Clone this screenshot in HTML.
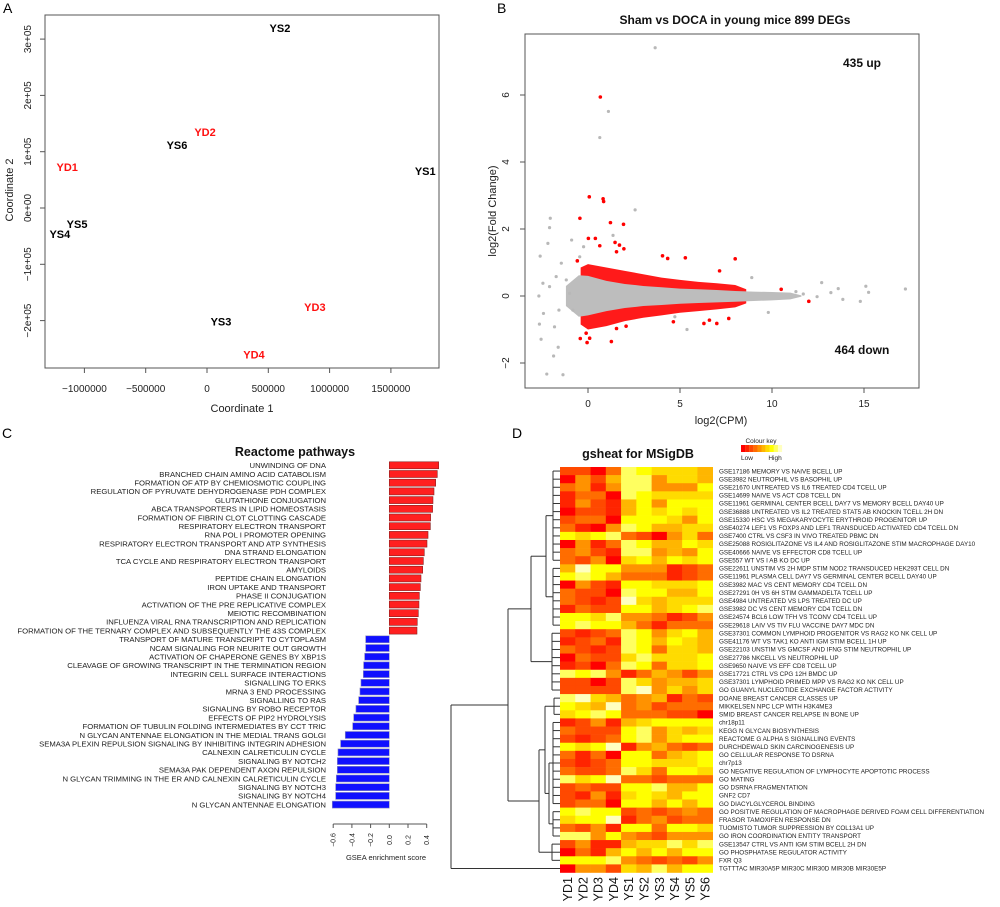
<!DOCTYPE html>
<html><head><meta charset="utf-8"><style>
body{margin:0;background:#fff}
svg{display:block;font-family:"Liberation Sans",sans-serif}
</style></head><body>
<svg id="fig" width="1000" height="907" viewBox="0 0 1000 907" xmlns="http://www.w3.org/2000/svg">
<rect width="1000" height="907" fill="#fff"/>
<text x="3" y="13" font-size="14">A</text>
<text x="497" y="13" font-size="14">B</text>
<text x="2" y="438" font-size="14">C</text>
<text x="512" y="438" font-size="14">D</text>
<g id="pa"></g>
<g id="pb"></g>
<g id="pc"></g>
<g id="pd"></g>
</svg>
<script>
// ---------- Panel A data ----------
const mdsLabels=["YS2","YD2","YS6","YD1","YS1","YS5","YS4","YS3","YD3","YD4"];
const mdsX=[595000,-16000,-245000,-1140000,1780000,-1060000,-1200000,114000,880000,383000];
const mdsY=[320000,135000,112000,73000,66000,-28000,-46000,-202000,-176000,-260000];
const mdsXTicks=[-1000000,-500000,0,500000,1000000,1500000];
const mdsXTickLabels=["\u22121000000","\u2212500000","0","500000","1000000","1500000"];
const mdsYTicks=[-200000,-100000,0,100000,200000,300000];
const mdsYTickLabels=["\u22122e+05","\u22121e+05","0e+00","1e+05","2e+05","3e+05"];

// ---------- Panel B data ----------
const redX=[0.67,0.07,0.82,0.85,-0.44,1.22,1.93,0.02,0.4,1.47,1.71,1.95,1.55,0.64,4.05,4.33,5.29,8.0,-0.58,7.15,10.5,12.0,-0.42,-0.05,0.09,1.27,1.55,2.07,6.3,6.6,7.0,7.65,4.64,-0.1];
const redY=[5.94,2.96,2.9,2.82,2.32,2.19,2.14,1.72,1.72,1.6,1.52,1.41,1.32,1.5,1.2,1.12,1.14,1.11,1.05,0.75,0.2,-0.16,-1.27,-1.39,-1.26,-1.36,-0.97,-0.9,-0.82,-0.72,-0.82,-0.67,-0.77,-1.11];
const grayX=[3.65,1.11,0.64,2.56,-2.05,-2.09,-2.18,-2.6,-0.89,1.36,-2.67,-2.64,-2.55,-1.87,-1.62,-2.24,-1.36,-1.82,-1.58,-2.09,-1.73,-1.45,-1.18,12.7,13.6,15.1,15.25,17.25,14.8,13.85,13.2,12.45,11.7,11.3,9.8,8.9,5.38,4.72,-2.42,-2.45,-1.0,-0.82,-0.45,-0.24];
const grayY=[7.41,5.51,4.73,2.57,2.32,2.04,1.57,1.19,1.67,1.81,0,-0.84,-1.29,-1.79,-1.53,-2.33,-2.35,-0.92,-0.42,0.28,0.58,0.98,0.48,0.4,0.22,0.29,0.11,0.21,-0.16,-0.1,0.1,-0.02,0.06,0.13,-0.49,0.55,-1.0,-0.62,-0.52,0.38,0.08,-0.42,1.17,1.47];
const bandX=[-1.2,-0.5,0,1,2,3,4,5,6,7,8,9,10,11,11.6];
const bandHi=[0.3,0.62,0.6,0.45,0.36,0.3,0.26,0.22,0.2,0.18,0.15,0.13,0.12,0.1,0.02];
const bandLo=[-0.3,-0.62,-0.58,-0.45,-0.36,-0.3,-0.27,-0.23,-0.21,-0.19,-0.17,-0.15,-0.13,-0.1,-0.02];
const redBandX=[-0.4,0,1,2,3,4,5,6,7,8,8.6];
const redBandHi=[0.85,0.95,0.85,0.75,0.65,0.55,0.48,0.42,0.38,0.33,0.2];
const redBandLo=[-0.85,-1.0,-0.9,-0.75,-0.65,-0.58,-0.5,-0.45,-0.4,-0.34,-0.22];
const maXTicks=[0,5,10,15];
const maYTicks=[-2,0,2,4,6];

// ---------- Panel C data ----------
const pathways=["UNWINDING OF DNA","BRANCHED CHAIN AMINO ACID CATABOLISM","FORMATION OF ATP BY CHEMIOSMOTIC COUPLING","REGULATION OF PYRUVATE DEHYDROGENASE PDH COMPLEX","GLUTATHIONE CONJUGATION","ABCA TRANSPORTERS IN LIPID HOMEOSTASIS","FORMATION OF FIBRIN CLOT CLOTTING CASCADE","RESPIRATORY ELECTRON TRANSPORT","RNA POL I PROMOTER OPENING","RESPIRATORY ELECTRON TRANSPORT AND ATP SYNTHESIS","DNA STRAND ELONGATION","TCA CYCLE AND RESPIRATORY ELECTRON TRANSPORT","AMYLOIDS","PEPTIDE CHAIN ELONGATION","IRON UPTAKE AND TRANSPORT","PHASE II CONJUGATION","ACTIVATION OF THE PRE REPLICATIVE COMPLEX","MEIOTIC RECOMBINATION","INFLUENZA VIRAL RNA TRANSCRIPTION AND REPLICATION","FORMATION OF THE TERNARY COMPLEX AND SUBSEQUENTLY THE 43S COMPLEX","TRANSPORT OF MATURE TRANSCRIPT TO CYTOPLASM","NCAM SIGNALING FOR NEURITE OUT GROWTH","ACTIVATION OF CHAPERONE GENES BY XBP1S","CLEAVAGE OF GROWING TRANSCRIPT IN THE TERMINATION REGION","INTEGRIN CELL SURFACE INTERACTIONS","SIGNALLING TO ERKS","MRNA 3 END PROCESSING","SIGNALLING TO RAS","SIGNALING BY ROBO RECEPTOR","EFFECTS OF PIP2 HYDROLYSIS","FORMATION OF TUBULIN FOLDING INTERMEDIATES BY CCT TRIC","N GLYCAN ANTENNAE ELONGATION IN THE MEDIAL TRANS GOLGI","SEMA3A PLEXIN REPULSION SIGNALING BY INHIBITING INTEGRIN ADHESION","CALNEXIN CALRETICULIN CYCLE","SIGNALING BY NOTCH2","SEMA3A PAK DEPENDENT AXON REPULSION","N GLYCAN TRIMMING IN THE ER AND CALNEXIN CALRETICULIN CYCLE","SIGNALING BY NOTCH3","SIGNALING BY NOTCH4","N GLYCAN ANTENNAE ELONGATION"];
const scores=[0.528,0.513,0.496,0.478,0.467,0.463,0.442,0.439,0.414,0.403,0.374,0.364,0.357,0.339,0.332,0.321,0.317,0.310,0.299,0.296,-0.253,-0.253,-0.264,-0.275,-0.278,-0.303,-0.314,-0.328,-0.357,-0.381,-0.392,-0.471,-0.521,-0.549,-0.556,-0.556,-0.567,-0.574,-0.574,-0.610];
const gseaTicks=[-0.6,-0.4,-0.2,0.0,0.2,0.4];
const gseaTickLabels=["\u22120.6","\u22120.4","\u22120.2","0.0","0.2","0.4"];

// ---------- Panel D data ----------
const samples=["YD1","YD2","YD3","YD4","YS1","YS2","YS3","YS4","YS5","YS6"];
const genesets=["GSE17186 MEMORY VS NAIVE BCELL UP","GSE3982 NEUTROPHIL VS BASOPHIL UP","GSE21670 UNTREATED VS IL6 TREATED CD4 TCELL UP","GSE14699 NAIVE VS ACT CD8 TCELL DN","GSE11961 GERMINAL CENTER BCELL DAY7 VS MEMORY BCELL DAY40 UP","GSE36888 UNTREATED VS IL2 TREATED STAT5 AB KNOCKIN TCELL 2H DN","GSE15330 HSC VS MEGAKARYOCYTE ERYTHROID PROGENITOR UP","GSE40274 LEF1 VS FOXP3 AND LEF1 TRANSDUCED ACTIVATED CD4 TCELL DN","GSE7400 CTRL VS CSF3 IN VIVO TREATED PBMC DN","GSE25088 ROSIGLITAZONE VS IL4 AND ROSIGLITAZONE STIM MACROPHAGE DAY10","GSE40666 NAIVE VS EFFECTOR CD8 TCELL UP","GSE557 WT VS I AB KO DC UP","GSE22611 UNSTIM VS 2H MDP STIM NOD2 TRANSDUCED HEK293T CELL DN","GSE11961 PLASMA CELL DAY7 VS GERMINAL CENTER BCELL DAY40 UP","GSE3982 MAC VS CENT MEMORY CD4 TCELL DN","GSE27291 0H VS 6H STIM GAMMADELTA TCELL UP","GSE4984 UNTREATED VS LPS TREATED DC UP","GSE3982 DC VS CENT MEMORY CD4 TCELL DN","GSE24574 BCL6 LOW TFH VS TCONV CD4 TCELL UP","GSE29618 LAIV VS TIV FLU VACCINE DAY7 MDC DN","GSE37301 COMMON LYMPHOID PROGENITOR VS RAG2 KO NK CELL UP","GSE41176 WT VS TAK1 KO ANTI IGM STIM BCELL 1H UP","GSE22103 UNSTIM VS GMCSF AND IFNG STIM NEUTROPHIL UP","GSE27786 NKCELL VS NEUTROPHIL UP","GSE9650 NAIVE VS EFF CD8 TCELL UP","GSE17721 CTRL VS CPG 12H BMDC UP","GSE37301 LYMPHOID PRIMED MPP VS RAG2 KO NK CELL UP","GO GUANYL NUCLEOTIDE EXCHANGE FACTOR ACTIVITY","DOANE BREAST CANCER CLASSES UP","MIKKELSEN NPC LCP WITH H3K4ME3","SMID BREAST CANCER RELAPSE IN BONE UP","chr18p11","KEGG N GLYCAN BIOSYNTHESIS","REACTOME G ALPHA S SIGNALLING EVENTS","DURCHDEWALD SKIN CARCINOGENESIS UP","GO CELLULAR RESPONSE TO DSRNA","chr7p13","GO NEGATIVE REGULATION OF LYMPHOCYTE APOPTOTIC PROCESS","GO MATING","GO DSRNA FRAGMENTATION","GNF2 CD7","GO DIACYLGLYCEROL BINDING","GO POSITIVE REGULATION OF MACROPHAGE DERIVED FOAM CELL DIFFERENTIATION","FRASOR TAMOXIFEN RESPONSE DN","TUOMISTO TUMOR SUPPRESSION BY COL13A1 UP","GO IRON COORDINATION ENTITY TRANSPORT","GSE13547 CTRL VS ANTI IGM STIM BCELL 2H DN","GO PHOSPHATASE REGULATOR ACTIVITY","FXR Q3","TGTTTAC MIR30A5P MIR30C MIR30D MIR30B MIR30E5P"];
const heatVals=[
"2203876665","0425884665","3414884447","1330876666","1421574777","0221576767","2330777647","3104875566","7678320463","0413875576",
"3421884547","3240675767","5977444123","7875333123","0421776667","3220877557","3212965666","1322775678","7768443124","7877531333",
"2123874675","1231875765","3212873665","0322686667","1203873667","8784135424","2202864556","2222894646","8965345132","7659342333",
"6787333220","1241567777","3222784656","2123784677","7679145323","3130773567","2123776667","3223863776","8679332333","2322778557",
"2141676577","2330775757","7877232343","6779134233","3241773776","8847432444","2411566868","0315757577","7778432324","0442658577"];
const heatPalette=["#ff0000","#ff2400","#ff4900","#ff6d00","#ff9200","#ffb600","#ffdb00","#ffff00","#ffff60","#ffffc0"];

const NS="http://www.w3.org/2000/svg";
function mk(parent,tag,attrs,txt){const e=document.createElementNS(NS,tag);for(const k in attrs)e.setAttribute(k,attrs[k]);if(txt!==undefined)e.textContent=txt;parent.appendChild(e);return e;}

// ===== Panel A =====
(function(){
const g=document.getElementById('pa');
const X0=45,X1=439,Y0=15,Y1=368;
const sx=v=>207+v/500000*61.3, sy=v=>208-v/100000*56.3;
const box=mk(g,'rect',{x:X0,y:Y0,width:X1-X0,height:Y1-Y0,fill:'none',stroke:'#555','stroke-width':1});


mdsXTicks.forEach((t,i)=>{
 const x=sx(t);
 const l=mk(g,'line',{x1:x,x2:x,y1:Y1,y2:Y1+5,stroke:'#555'});
 
 
 const tx=mk(g,'text',{x:x,y:Y1+24,'font-size':10,'text-anchor':'middle',fill:'#222'},mdsXTickLabels[i]);
 
 
});
mdsYTicks.forEach((t,i)=>{
 const y=sy(t);
 const l=mk(g,'line',{x1:X0-5,x2:X0,y1:y,y2:y,stroke:'#555'});
 
 
 const tx=mk(g,'text',{x:0,y:0,'font-size':10,'text-anchor':'middle',fill:'#222',transform:`translate(31,${y}) rotate(-90)`},mdsYTickLabels[i]);
 
 
});
const xl=mk(g,'text',{x:242,y:412,'font-size':11,'text-anchor':'middle',fill:'#222'},'Coordinate 1');


const yl=mk(g,'text',{x:0,y:0,'font-size':11,'text-anchor':'middle',fill:'#222',transform:'translate(13,190) rotate(-90)'},'Coordinate 2');


mdsLabels.forEach((s,i)=>{
 const t=mk(g,'text',{x:sx(mdsX[i]),y:sy(mdsY[i])+4,'font-size':11,'font-weight':'bold','text-anchor':'middle',fill:s.startsWith('YD')?'#ff1010':'#000'},s);
 
 
});
})();

// ===== Panel B =====
(function(){
const g=document.getElementById('pb');
const X0=525,X1=919,Y0=34,Y1=388;
const sx=v=>588+v*18.4, sy=v=>296-v*33.5;
const t=mk(g,'text',{x:735,y:24,'font-size':12,'font-weight':'bold','text-anchor':'middle',fill:'#111'},'Sham vs DOCA in young mice 899 DEGs');


function poly(xs,hi,lo,fill,name){
 let pts=xs.map((x,i)=>sx(x)+','+sy(hi[i]));
 for(let i=xs.length-1;i>=0;i--)pts.push(sx(xs[i])+','+sy(lo[i]));
 const p=mk(g,'polygon',{points:pts.join(' '),fill:fill});
 
 
}
poly(redBandX,redBandHi,redBandLo,'#ff1a1a','de-gene-band');
poly(bandX,bandHi,bandLo,'#bdbdbd','non-de-gene-band');
grayX.forEach((x,i)=>{
 const c=mk(g,'circle',{cx:sx(x),cy:sy(grayY[i]),r:1.6,fill:'#b8b8b8'});
 
 
});
redX.forEach((x,i)=>{
 const c=mk(g,'circle',{cx:sx(x),cy:sy(redY[i]),r:1.8,fill:'#ff0000'});
 
 
});
const box=mk(g,'rect',{x:X0,y:Y0,width:X1-X0,height:Y1-Y0,fill:'none',stroke:'#555'});


maXTicks.forEach(v=>{
 const x=sx(v);
 const l=mk(g,'line',{x1:x,x2:x,y1:Y1,y2:Y1+5,stroke:'#555'});
 
 
 const tx=mk(g,'text',{x:x,y:Y1+19,'font-size':10,'text-anchor':'middle',fill:'#222'},String(v));
 
 
});
maYTicks.forEach(v=>{
 const y=sy(v);
 const l=mk(g,'line',{x1:X0-5,x2:X0,y1:y,y2:y,stroke:'#555'});
 
 
 const tx=mk(g,'text',{x:0,y:0,'font-size':10,'text-anchor':'middle',fill:'#222',transform:`translate(509,${y}) rotate(-90)`},v<0?'\u2212'+(-v):String(v));
 
 
});
const xl=mk(g,'text',{x:721,y:424,'font-size':11,'text-anchor':'middle',fill:'#222'},'log2(CPM)');


const yl=mk(g,'text',{x:0,y:0,'font-size':11,'text-anchor':'middle',fill:'#222',transform:'translate(496,211) rotate(-90)'},'log2(Fold Change)');


const up=mk(g,'text',{x:862,y:67,'font-size':12,'font-weight':'bold','text-anchor':'middle',fill:'#111'},'435 up');


const dn=mk(g,'text',{x:862,y:354,'font-size':12,'font-weight':'bold','text-anchor':'middle',fill:'#111'},'464 down');


})();

// ===== Panel C =====
(function(){
const g=document.getElementById('pc');
const zero=389.3, k=93.5, rowH=8.7, top=465.3;
const sx=v=>zero+v*k;
const t=mk(g,'text',{x:295,y:456,'font-size':12.5,'font-weight':'bold','text-anchor':'middle',fill:'#111'},'Reactome pathways');


pathways.forEach((p,i)=>{
 const yc=top+i*rowH, v=scores[i];
 const lb=mk(g,'text',{x:326,y:yc+2.8,'font-size':7.7,'text-anchor':'end',fill:'#222'},p);
 
 
 const x0=Math.min(sx(0),sx(v)), w=Math.abs(sx(v)-sx(0));
 const r=mk(g,'rect',{x:x0,y:yc-3.5,width:w,height:7,fill:v>0?'#ff2020':'#1010ff',stroke:v>0?'#8a2020':'#9090c0','stroke-width':0.6});
 
 
});
const ax=mk(g,'line',{x1:sx(gseaTicks[0]),x2:sx(gseaTicks[gseaTicks.length-1]),y1:824,y2:824,stroke:'#555'});


gseaTicks.forEach((v,i)=>{
 const x=sx(v);
 const l=mk(g,'line',{x1:x,x2:x,y1:824,y2:828,stroke:'#555'});
 
 
 const tx=mk(g,'text',{x:0,y:0,'font-size':7,'text-anchor':'middle',fill:'#222',transform:`translate(${x+2.5},840) rotate(-90)`},gseaTickLabels[i]);
 
 
});
const xl=mk(g,'text',{x:386,y:860,'font-size':7.5,'text-anchor':'middle',fill:'#222'},'GSEA enrichment score');


})();

// ===== Panel D =====
(function(){
const g=document.getElementById('pd');
const hx=560, cw=15.27, hy=467, rh=8.11;
const cy=i=>hy+(i+0.5)*rh;
const t=mk(g,'text',{x:638,y:458,'font-size':12.5,'font-weight':'bold','text-anchor':'middle',fill:'#111'},'gsheat for MSigDB');


// colour key
const ck=mk(g,'text',{x:761,y:443,'font-size':6.5,'text-anchor':'middle',fill:'#222'},'Colour key');


heatPalette.forEach((c,i)=>{
 const r=mk(g,'rect',{x:741+i*4.1,y:445,width:4.2,height:7,fill:c});
 
 
});
const lo=mk(g,'text',{x:747,y:460,'font-size':6.5,'text-anchor':'middle',fill:'#222'},'Low');


const hi=mk(g,'text',{x:775,y:460,'font-size':6.5,'text-anchor':'middle',fill:'#222'},'High');


heatVals.forEach((row,i)=>{
 for(let j=0;j<samples.length;j++){
  const v=+row[j];
  const r=mk(g,'rect',{x:hx+j*cw,y:hy+i*rh,width:cw+0.3,height:rh+0.3,fill:heatPalette[v]});
  
  
 }
 const lb=mk(g,'text',{x:719,y:cy(i)+2.2,'font-size':6.3,fill:'#222'},genesets[i]);
 
 
});
samples.forEach((s,j)=>{
 const x=hx+(j+0.5)*cw+4.5;
 const tx=mk(g,'text',{x:0,y:0,'font-size':12.5,'text-anchor':'end',fill:'#111',transform:`translate(${x},877) rotate(-90)`},s);
 
 
});
// dendrogram (row clustering)
const dg=mk(g,'g',{stroke:'#333','stroke-width':1,fill:'none'});


function seg(x1,y1,x2,y2){mk(dg,'line',{x1,y1,x2,y2});}
function leafGroup(a,b,x){ // rows a..b (0-based)
 for(let i=a;i<=b;i++)seg(x,cy(i),hx,cy(i));
 seg(x,cy(a),x,cy(b));
 return (cy(a)+cy(b))/2;
}
function join(x,ya,xa,yb,xb){seg(x,ya,xa,ya);seg(x,yb,xb,yb);seg(x,ya,x,yb);return (ya+yb)/2;}
const g1=leafGroup(0,11,553), g2=leafGroup(12,19,553), g3=leafGroup(20,27,552);
const g4=leafGroup(28,30,554), g5=leafGroup(31,41,553), g6=leafGroup(42,45,553), g7=leafGroup(46,48,552);
const n12=join(546,g1,553,g2,553);
const n123=join(531,n12,546,g3,552);
const n56=join(549,g5,553,g6,553);
const n456=join(545,g4,554,n56,549);
const nB=join(539,n456,545,g7,552);
const main=join(508,n123,531,nB,539);
join(451,main,508,cy(49),hx);
})();
</script>
</body></html>
